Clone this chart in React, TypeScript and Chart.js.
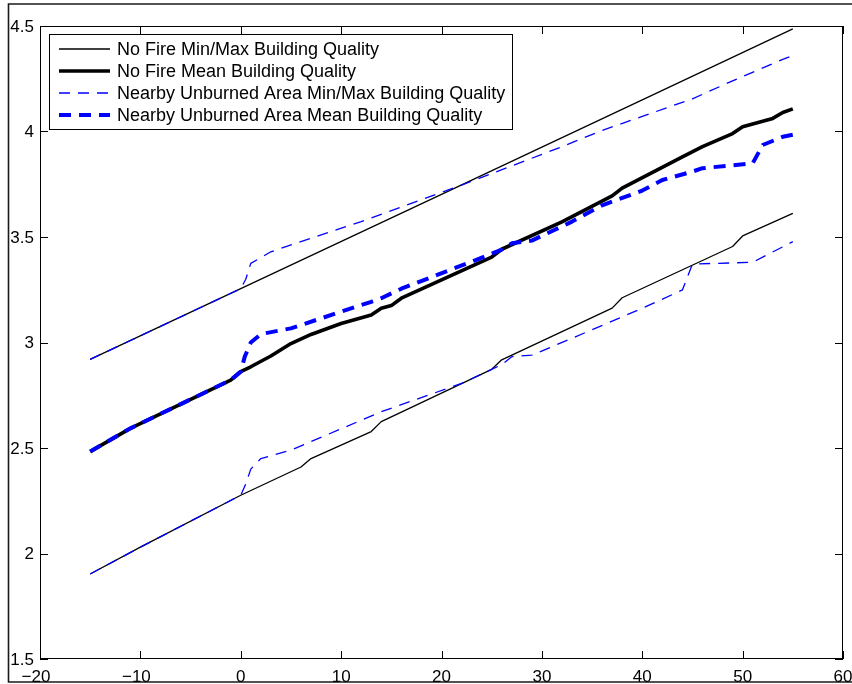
import { useEffect, useRef } from "react";
import { Chart, registerables } from "chart.js";

Chart.register(...registerables);

// ---- data ----
const xTicks = [-20, -10, 0, 10, 20, 30, 40, 50, 60];
const yTicks = [1.5, 2, 2.5, 3, 3.5, 4, 4.5];
const yTickLabels = ["1.5", "2", "2.5", "3", "3.5", "4", "4.5"];

const legendLabels = [
  "No Fire Min/Max Building Quality",
  "No Fire Mean Building Quality",
  "Nearby Unburned Area Min/Max Building Quality",
  "Nearby Unburned Area Mean Building Quality",
];

const noFireMaxX = [-15, 0, 20, 40, 55];
const noFireMaxY = [2.92, 3.255, 3.702, 4.15, 4.486];

const noFireMinX = [-15, -10, 0, 6, 7, 13, 14, 25, 26, 37, 38, 49, 50, 55];
const noFireMinY = [1.903, 2.03, 2.276, 2.41, 2.45, 2.578, 2.625, 2.873, 2.918, 3.163, 3.212, 3.455, 3.505, 3.612];

const noFireMeanX = [-15, -11, -1, 0, 1, 3, 5, 7, 10, 13, 14, 15, 16, 25, 26, 32, 37, 38, 44, 46, 49, 50, 53, 54, 55];
const noFireMeanY = [2.483, 2.593, 2.822, 2.862, 2.885, 2.936, 2.995, 3.038, 3.09, 3.13, 3.162, 3.175, 3.21, 3.405, 3.442, 3.572, 3.695, 3.732, 3.88, 3.928, 3.99, 4.022, 4.062, 4.09, 4.107];

const unburnedMaxX = [-15, 0, 0.5, 1, 3, 7, 12, 22, 32, 36, 45, 49, 54, 55];
const unburnedMaxY = [2.92, 3.255, 3.3, 3.375, 3.43, 3.494, 3.573, 3.746, 3.928, 4.005, 4.155, 4.24, 4.342, 4.36];

const unburnedMinX = [-15, -10, 0, 0.5, 1, 2, 5, 14, 22, 25, 26, 27, 29, 33, 40, 44, 45, 51, 55];
const unburnedMinY = [1.903, 2.03, 2.276, 2.33, 2.4, 2.45, 2.49, 2.672, 2.806, 2.873, 2.895, 2.933, 2.94, 3.02, 3.162, 3.249, 3.372, 3.38, 3.478];

const unburnedMeanX = [-15, -11, -1, 0, 0.4, 1, 2, 5, 10, 13, 14, 16, 23, 26, 27, 29, 32, 33, 36, 40, 42, 45, 46, 51, 52, 54, 55];
const unburnedMeanY = [2.483, 2.593, 2.822, 2.862, 2.933, 3.0, 3.04, 3.067, 3.146, 3.193, 3.21, 3.255, 3.383, 3.44, 3.47, 3.483, 3.55, 3.573, 3.65, 3.72, 3.77, 3.81, 3.826, 3.849, 3.936, 3.975, 3.985];

const FONT = '"Liberation Sans", Arial, Helvetica, sans-serif';

const pts = (xs: number[], ys: number[]) => xs.map((x, i) => ({ x, y: ys[i] }));

const axesPlugin = {
  id: "matlabAxes",
  beforeDraw(chart: any) {
    const ctx = chart.ctx;
    ctx.save();
    ctx.fillStyle = "#fff";
    ctx.fillRect(0, 0, chart.width, chart.height);
    ctx.restore();
  },
  afterDraw(chart: any) {
    const ctx = chart.ctx;
    const { left, right, top, bottom } = chart.chartArea;
    const xs = chart.scales.x;
    const ys = chart.scales.y;
    ctx.save();

    // figure frame
    ctx.strokeStyle = "#1a1a1a";
    ctx.lineWidth = 1.6;
    ctx.beginPath();
    ctx.moveTo(chart.width + 2, 4);
    ctx.lineTo(8.5, 4);
    ctx.lineTo(8.5, 682);
    ctx.lineTo(chart.width + 2, 682);
    ctx.stroke();

    // axes box
    ctx.strokeStyle = "#000";
    ctx.lineWidth = 1;
    ctx.strokeRect(left + 0.5, top + 0.5, right - left - 1, bottom - top - 1);

    const tl = 8;
    ctx.beginPath();
    xTicks.forEach((v) => {
      const px = Math.round(xs.getPixelForValue(v)) + 0.5;
      ctx.moveTo(px, bottom);
      ctx.lineTo(px, bottom - tl);
      ctx.moveTo(px, top);
      ctx.lineTo(px, top + tl);
    });
    yTicks.forEach((v) => {
      const py = Math.round(ys.getPixelForValue(v)) + 0.5;
      ctx.moveTo(left, py);
      ctx.lineTo(left + tl, py);
      ctx.moveTo(right, py);
      ctx.lineTo(right - tl, py);
    });
    ctx.stroke();

    // tick labels
    ctx.fillStyle = "#000";
    ctx.font = `17px ${FONT}`;
    ctx.textAlign = "right";
    ctx.textBaseline = "middle";
    yTicks.forEach((v, i) => {
      ctx.fillText(yTickLabels[i], left - 6, ys.getPixelForValue(v) + 1);
    });
    ctx.textAlign = "center";
    xTicks.forEach((v) => {
      const s = v < 0 ? "\u2212" + Math.abs(v) : String(v);
      ctx.fillText(s, xs.getPixelForValue(v) - (v < 0 ? 4 : 0), 677);
    });

    // legend
    const bx = 49, by = 34, bw = 463, bh = 95;
    ctx.fillStyle = "#fff";
    ctx.fillRect(bx, by, bw, bh);
    ctx.strokeStyle = "#000";
    ctx.lineWidth = 1;
    ctx.strokeRect(bx + 0.5, by + 0.5, bw, bh);
    ctx.font = `18px ${FONT}`;
    ctx.textAlign = "left";
    ctx.textBaseline = "middle";
    legendLabels.forEach((lab, i) => {
      const ds = chart.data.datasets[i];
      const cy = 49 + i * 22;
      ctx.save();
      ctx.strokeStyle = ds.borderColor;
      ctx.lineWidth = ds.borderWidth;
      ctx.setLineDash(ds.borderDash || []);
      ctx.beginPath();
      ctx.moveTo(59, cy);
      ctx.lineTo(110, cy);
      ctx.stroke();
      ctx.restore();
      ctx.fillStyle = "#000";
      ctx.fillText(lab, 117, cy + 1);
    });

    ctx.restore();
  },
};

export default function App() {
  const ref = useRef<HTMLCanvasElement | null>(null);
  useEffect(() => {
    if (!ref.current) return;
    const chart = new Chart(ref.current, {
      type: "line",
      data: {
        datasets: [
          { label: legendLabels[0], data: pts(noFireMaxX, noFireMaxY), borderColor: "#000", borderWidth: 1.3, order: 2 },
          { label: legendLabels[1], data: pts(noFireMeanX, noFireMeanY), borderColor: "#000", borderWidth: 3.6, order: 2 },
          { label: legendLabels[2], data: pts(unburnedMaxX, unburnedMaxY), borderColor: "#0000ff", borderWidth: 1.3, borderDash: [11, 8], order: 1 },
          { label: legendLabels[3], data: pts(unburnedMeanX, unburnedMeanY), borderColor: "#0000ff", borderWidth: 4, borderDash: [12, 8], order: 1 },
          { label: legendLabels[0] + " (min)", data: pts(noFireMinX, noFireMinY), borderColor: "#000", borderWidth: 1.3, order: 2 },
          { label: legendLabels[2] + " (min)", data: pts(unburnedMinX, unburnedMinY), borderColor: "#0000ff", borderWidth: 1.3, borderDash: [11, 8], order: 1 },
        ] as any,
      },
      options: {
        responsive: false,
        animation: false,
        devicePixelRatio: 1,
        layout: { padding: { left: 40, top: 26, right: 9, bottom: 25 } },
        elements: {
          point: { radius: 0, hoverRadius: 0 },
          line: { tension: 0, borderCapStyle: "butt", borderJoinStyle: "round", fill: false },
        },
        scales: {
          x: { type: "linear", min: -20, max: 60, display: false },
          y: { type: "linear", min: 1.5, max: 4.5, display: false },
        },
        plugins: { legend: { display: false }, tooltip: { enabled: false } },
        events: [],
      } as any,
      plugins: [axesPlugin],
    });
    return () => chart.destroy();
  }, []);
  return (
    <div style={{ position: "fixed", left: 0, top: 0, width: 852, height: 684, background: "#fff", overflow: "hidden" }}>
      <canvas ref={ref} width={852} height={684} style={{ display: "block" }} />
    </div>
  );
}
